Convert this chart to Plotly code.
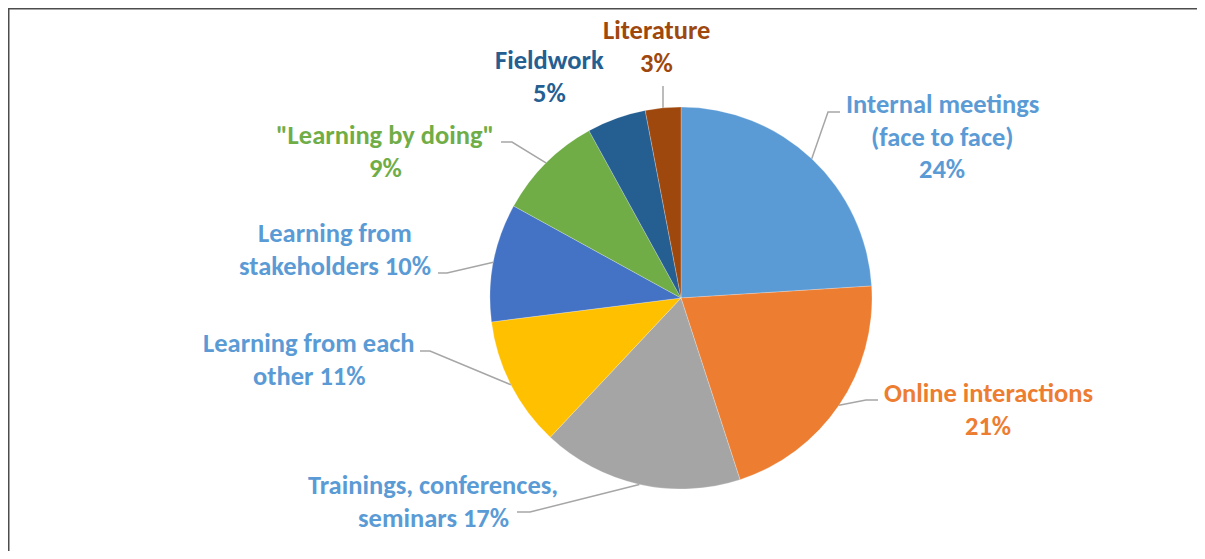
import math
import plotly.graph_objects as go

# data
categories = [
    "Internal meetings (face to face)",
    "Online interactions",
    "Trainings, conferences, seminars",
    "Learning from each other",
    "Learning from stakeholders",
    '"Learning by doing"',
    "Fieldwork",
    "Literature",
]
shares = [24, 21, 17, 11, 10, 9, 5, 3]
slice_colors = ["#5B9BD5", "#ED7D31", "#A5A5A5", "#FFC000",
                "#4472C4", "#70AD47", "#255E91", "#9E480E"]
label_lines = [
    ["Internal meetings", "(face to face)", "{p}%"],
    ["Online interactions", "{p}%"],
    ["Trainings, conferences,", "seminars {p}%"],
    ["Learning from each", "other {p}%"],
    ["Learning from", "stakeholders {p}%"],
    ['"Learning by doing"', "{p}%"],
    ["Fieldwork", "{p}%"],
    ["Literature", "{p}%"],
]
label_colors = ["#5B9BD5", "#ED7D31", "#5B9BD5", "#5B9BD5",
                "#5B9BD5", "#70AD47", "#255E91", "#9E480E"]

# page is offset by the 8px body margin; positions below are in page px
OFF = 8
W, H = 1205 - 2 * OFF, 559 - 2 * OFF
CX, CY, R = 681, 298, 191
FONT = "Carlito, Lato, sans-serif"

# label placement (page px): center x, y of first line
label_pos = [(942, 104), (988, 393), (433, 485), (309, 343),
             (335, 233), (385, 135), (549, 60), (656, 30)]
LINE_GAP = 32.5
# leader lines: elbow point, end point (None = no leader)
leaders = [((828, 112), (840, 112)),
           ((866, 400), (878, 400)),
           ((530, 512), (517, 512)),
           ((430, 351), (420, 351)),
           ((447, 273), (438, 273)),
           ((512, 142), (501, 142)),
           None,
           ((663, 86), (663, 86))]


def px(x, y):
    return (x - OFF) / W, 1 - (y - OFF) / H


d0 = px(CX - R, CY + R)
d1 = px(CX + R, CY - R)
fig = go.Figure(go.Pie(
    labels=categories, values=shares, sort=False, direction="clockwise",
    rotation=0, textinfo="none", hoverinfo="label+percent",
    marker=dict(colors=slice_colors, line=dict(color="rgba(255,255,255,0.4)", width=0.6)),
    domain=dict(x=[d0[0], d1[0]], y=[d0[1], d1[1]]),
    showlegend=False,
))

shapes = []
annotations = []
total = sum(shares)
cum = 0
for i, v in enumerate(shares):
    mid = (cum + v / 2) / total * 2 * math.pi
    cum += v
    sx, sy = CX + R * math.sin(mid), CY - R * math.cos(mid)
    if leaders[i] is not None:
        (ex, ey), (tx, ty) = leaders[i]
        x0, y0 = px(sx, sy)
        x1, y1 = px(ex, ey)
        x2, y2 = px(tx, ty)
        shapes.append(dict(type="path", xref="paper", yref="paper",
                           path=f"M {x0} {y0} L {x1} {y1} L {x2} {y2}",
                           line=dict(color="#A6A6A6", width=1.5)))
    lx, ly = label_pos[i]
    for j, line in enumerate(label_lines[i]):
        ax, ay = px(lx, ly + j * LINE_GAP)
        annotations.append(dict(
            x=ax, y=ay, xref="paper", yref="paper", showarrow=False,
            xanchor="center", yanchor="middle", text=f"<b>{line.format(p=v)}</b>",
            font=dict(family=FONT, size=26.5, color=label_colors[i])))

# chart frame (top and left edges visible)
shapes.append(dict(type="line", xref="paper", yref="paper",
                   x0=0, x1=1, y0=1, y1=1,
                   line=dict(color="#4D4D4D", width=3)))
shapes.append(dict(type="line", xref="paper", yref="paper",
                   x0=0, x1=0, y0=1, y1=0,
                   line=dict(color="#4D4D4D", width=3)))

fig.update_layout(
    width=W, height=H, margin=dict(l=0, r=0, t=0, b=0),
    paper_bgcolor="white", plot_bgcolor="white",
    shapes=shapes, annotations=annotations,
)
fig.write_html("out.html")
